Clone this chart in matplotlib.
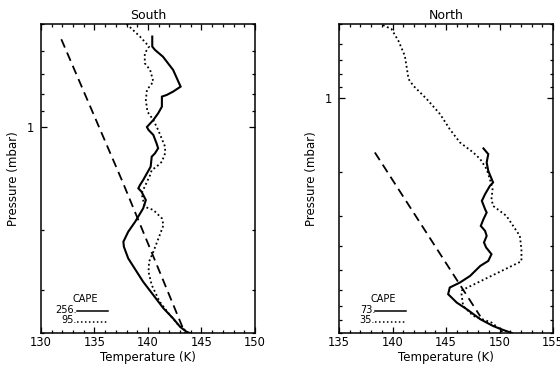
import numpy as np
import matplotlib
matplotlib.use("Agg")
import matplotlib.pyplot as plt
from matplotlib.ticker import FixedLocator, LogLocator, MultipleLocator, NullFormatter


# South profiles: temperature (K) against pressure (mbar)
south_obs_t = [140.4, 140.4, 140.65, 141.4, 142.35, 143.05, 142.35, 141.75, 141.3, 141.3,
               140.95, 140.5, 139.9, 140.05, 140.5, 140.8, 140.95, 140.65, 140.35, 140.25,
               139.9, 139.55, 139.25, 139.1, 139.4, 139.8, 139.55, 138.8, 138.15, 137.7,
               137.75, 138.15, 138.95, 139.55, 140.5, 141.45, 142.35, 143.0, 143.6, 143.9]
south_obs_p = [0.544, 0.582, 0.595, 0.623, 0.681, 0.762, 0.788, 0.806, 0.815, 0.872,
               0.912, 0.954, 1.0, 1.02, 1.055, 1.116, 1.154, 1.194, 1.221, 1.306,
               1.366, 1.429, 1.478, 1.511, 1.546, 1.635, 1.729, 1.892, 2.024, 2.165,
               2.239, 2.42, 2.649, 2.834, 3.099, 3.389, 3.626, 3.836, 3.967, 4.0]

south_alt_t = [138.0, 139.25, 140.1, 139.7, 139.7, 140.2, 140.5, 139.9, 139.8, 139.95,
               140.5, 140.95, 141.6, 141.6, 141.3, 140.8, 140.35, 140.2, 139.4, 139.7,
               140.5, 141.3, 141.45, 141.1, 140.5, 140.1, 140.05, 140.35, 141.1, 142.05,
               142.85, 143.45, 143.75]
south_alt_p = [0.5, 0.544, 0.582, 0.609, 0.651, 0.681, 0.737, 0.779, 0.834, 0.902,
               0.954, 1.02, 1.142, 1.194, 1.263, 1.306, 1.336, 1.382, 1.563, 1.711,
               1.748, 1.849, 1.934, 2.069, 2.315, 2.476, 2.649, 2.897, 3.243, 3.545,
               3.793, 3.923, 4.0]

south_adiabat_t = [131.9, 137.6, 143.45]
south_adiabat_p = [0.554, 1.44, 4.0]

# North profiles
north_obs_t = [148.5, 148.95, 148.8, 148.95, 149.4, 149.1, 148.65, 148.35, 148.65, 148.8,
               148.5, 148.25, 148.65, 148.8, 148.55, 148.75, 149.25, 148.95, 148.2, 147.25,
               146.3, 145.35, 145.2, 146.0, 146.95, 148.2, 149.4, 150.35, 151.15]
north_obs_p = [1.601, 1.689, 1.825, 1.975, 2.201, 2.273, 2.456, 2.615, 2.826, 2.915,
               3.104, 3.305, 3.463, 3.628, 3.86, 4.045, 4.306, 4.585, 4.806, 5.277,
               5.614, 5.883, 6.26, 6.77, 7.21, 7.91, 8.43, 8.75, 9.0]

north_alt_t = [139.1, 139.9, 140.55, 141.15, 141.35, 141.5, 141.95, 143.2, 144.45, 145.35,
               146.3, 147.55, 148.2, 148.8, 149.1, 149.35, 149.25, 149.4, 150.65, 151.9,
               152.05, 152.05, 146.5, 146.45, 146.6, 147.55, 149.25, 150.05, 150.35]
north_alt_p = [0.505, 0.524, 0.585, 0.673, 0.762, 0.837, 0.891, 1.009, 1.162, 1.337,
               1.514, 1.663, 1.77, 1.944, 2.135, 2.343, 2.574, 2.741, 3.01, 3.628,
               4.11, 4.6, 6.03, 6.26, 6.99, 7.67, 8.16, 8.69, 9.0]

north_adiabat_t = [138.35, 148.2]
north_adiabat_p = [1.663, 7.7]

cape_labels = {"South": ("256.", "95."), "North": ("73.", "35.")}


def draw_panel(ax, title, obs, alt, adiabat, xlim, ylim, cape):
    ax.plot(obs[0], obs[1], color="black", lw=1.5, solid_joinstyle="miter")
    ax.plot(alt[0], alt[1], color="black", lw=1.3, linestyle=(0, (1, 1.5)))
    ax.plot(adiabat[0], adiabat[1], color="black", lw=1.3, linestyle=(0, (5, 3)))

    ax.set_yscale("log")
    ax.set_xlim(*xlim)
    ax.set_ylim(*ylim)

    ax.xaxis.set_major_locator(MultipleLocator(5))
    ax.xaxis.set_minor_locator(MultipleLocator(1))
    ax.yaxis.set_major_locator(FixedLocator([1]))
    ax.yaxis.set_major_formatter(plt.FuncFormatter(lambda v, pos: "1"))
    ax.yaxis.set_minor_locator(LogLocator(base=10, subs=np.arange(2, 10)))
    ax.yaxis.set_minor_formatter(NullFormatter())

    ax.tick_params(which="both", direction="in", top=True, right=True, width=0.9)
    ax.tick_params(which="major", length=4)
    ax.tick_params(which="minor", length=2)
    ax.tick_params(axis="x", which="major", pad=2.5, labelsize=8.3)
    ax.tick_params(axis="y", which="major", pad=5, labelsize=8.3)
    for spine in ax.spines.values():
        spine.set_linewidth(1.1)

    ax.set_title(title, fontsize=9, pad=3.5)
    ax.set_xlabel("Temperature (K)", fontsize=8.5, labelpad=1)
    ax.set_ylabel("Pressure (mbar)", fontsize=8.5, labelpad=5)

    # CAPE key in the lower left corner
    ax.text(0.207, 0.109, "CAPE", transform=ax.transAxes, fontsize=7,
            ha="center", va="center")
    ax.text(0.169, 0.075, cape[0], transform=ax.transAxes, fontsize=7,
            ha="right", va="center")
    ax.text(0.169, 0.041, cape[1], transform=ax.transAxes, fontsize=7,
            ha="right", va="center")
    ax.plot([0.167, 0.314], [0.071, 0.071], transform=ax.transAxes,
            color="black", lw=1.1)
    ax.plot([0.167, 0.314], [0.037, 0.037], transform=ax.transAxes,
            color="black", lw=1.1, linestyle=(0, (1, 1.6)))


fig = plt.figure(figsize=(5.6, 3.7), dpi=100)
ax_s = fig.add_axes([0.0732, 0.1, 0.3821, 0.8351])
ax_n = fig.add_axes([0.6054, 0.1, 0.3821, 0.8351])

draw_panel(ax_s, "South", (south_obs_t, south_obs_p), (south_alt_t, south_alt_p),
           (south_adiabat_t, south_adiabat_p), (130, 150), (4.0, 0.5), cape_labels["South"])
draw_panel(ax_n, "North", (north_obs_t, north_obs_p), (north_alt_t, north_alt_p),
           (north_adiabat_t, north_adiabat_p), (135, 155), (9.0, 0.5), cape_labels["North"])

fig.savefig("out.png", dpi=100)
